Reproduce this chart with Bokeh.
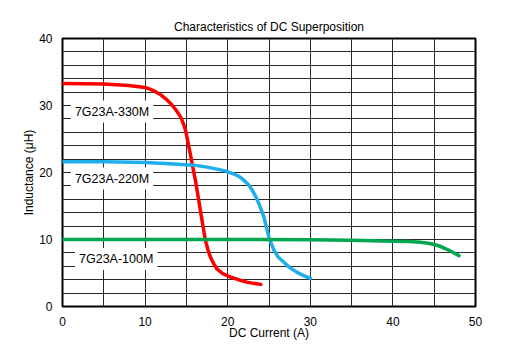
from bokeh.plotting import figure
from bokeh.models import Label, FixedTicker, Range1d
from bokeh.embed import file_html
from bokeh.resources import INLINE

# Data (DC current in A, inductance in uH)
red_x = [0, 5, 8, 10, 10.65, 11.2, 11.9, 12.5, 13.1, 13.7, 14.3, 14.6, 14.9, 15.1, 15.3, 15.5, 15.7, 15.9, 16.1,
         16.5, 16.9, 17.3, 17.6, 17.9, 18.3, 18.7, 19.4, 20.3, 21.3, 22.4, 24.0]
red_y = [33.3, 33.2, 33.0, 32.7, 32.4, 32.1, 31.6, 31.0, 30.3, 29.4, 28.3, 27.4, 26.3, 25.1, 23.8, 22.6, 21.3, 20.0, 18.8,
         15.8, 12.8, 9.9, 8.5, 7.4, 6.4, 5.6, 4.9, 4.4, 4.0, 3.6, 3.3]

blue_x = [0, 5, 10, 13, 15.9, 17.5, 18.7, 19.8, 20.7, 21.4, 21.9, 22.5, 23.0, 23.4, 23.8, 24.1, 24.4, 24.7, 25.0,
          25.3, 25.6, 26.1, 26.8, 27.5, 28.4, 29.2, 30.0]
blue_y = [21.6, 21.6, 21.5, 21.3, 21.1, 20.8, 20.5, 20.2, 19.8, 19.4, 18.9, 18.2, 17.3, 16.4, 15.3, 14.3, 13.3, 11.8, 10.3,
          9.3, 8.4, 7.4, 6.6, 5.8, 5.1, 4.6, 4.2]

green_x = [0, 10, 20, 30, 35, 40, 42, 43.3, 44.3, 45, 45.8, 46.6, 47.3, 48.0]
green_y = [10.0, 10.0, 10.0, 9.95, 9.9, 9.75, 9.7, 9.6, 9.45, 9.25, 8.95, 8.5, 8.05, 7.6]

series_names = ["7G23A-330M", "7G23A-220M", "7G23A-100M"]
label_x = [6.0, 6.0, 6.5]
label_y = [29.1, 19.1, 7.1]

x_ticks = [0, 10, 20, 30, 40, 50]
y_ticks = [0, 10, 20, 30, 40]
x_grid = [0, 5, 10, 15, 20, 25, 30, 35, 40, 45, 50]
y_grid = [0, 2, 4, 6, 8, 10, 12, 14, 16, 18, 20, 22, 24, 26, 28, 30, 32, 34, 36, 38, 40]

FONT = "Liberation Sans"

p = figure(width=525, height=352, output_backend="svg", toolbar_location=None,
           x_range=Range1d(0, 50), y_range=Range1d(0, 40),
           min_border_left=62, min_border_right=50, min_border_top=38, min_border_bottom=46,
           title="Characteristics of DC Superposition")

p.title.align = "center"
p.title.text_font = FONT
p.title.text_font_size = "12px"
p.title.text_font_style = "normal"
p.title.text_color = "black"
p.title.standoff = 9

p.outline_line_color = "black"
p.outline_line_width = 2
p.outline_line_alpha = 1.0

p.xgrid.ticker = FixedTicker(ticks=x_grid)
p.ygrid.ticker = FixedTicker(ticks=y_grid)
for g in (p.xgrid, p.ygrid):
    g.grid_line_color = "#2a2a2a"
    g.grid_line_width = 1
    g.grid_line_alpha = 1.0

p.xaxis.ticker = FixedTicker(ticks=x_ticks)
p.yaxis.ticker = FixedTicker(ticks=y_ticks)
for ax in (p.xaxis, p.yaxis):
    ax.axis_line_color = None
    ax.major_tick_line_color = None
    ax.minor_tick_line_color = None
    ax.major_label_text_font = FONT
    ax.major_label_text_font_size = "12px"
    ax.major_label_text_color = "black"
    ax.axis_label_text_font = FONT
    ax.axis_label_text_font_size = "12px"
    ax.axis_label_text_font_style = "normal"
    ax.axis_label_text_color = "black"

p.xaxis.axis_label = "DC Current (A)"
p.yaxis.axis_label = "Inductance (\u03bcH)"
p.xaxis.major_label_standoff = 4
p.yaxis.major_label_standoff = 4
p.xaxis.axis_label_standoff = -3
p.yaxis.axis_label_standoff = 0

p.line(red_x, red_y, line_color="#ff0000", line_width=3.5, line_cap="round", line_join="round")
p.line(blue_x, blue_y, line_color="#1eaeea", line_width=3.5, line_cap="round", line_join="round")
p.line(green_x, green_y, line_color="#00a651", line_width=3.5, line_cap="round", line_join="round")

for name, lx, ly in zip(series_names, label_x, label_y):
    p.add_layout(Label(x=lx, y=ly, text=name, text_align="center", text_baseline="middle",
                       text_font=FONT, text_font_size="12.5px", text_color="black",
                       background_fill_color="white", background_fill_alpha=1.0,
                       padding=4))

open("out.html", "w").write(file_html(p, INLINE))
